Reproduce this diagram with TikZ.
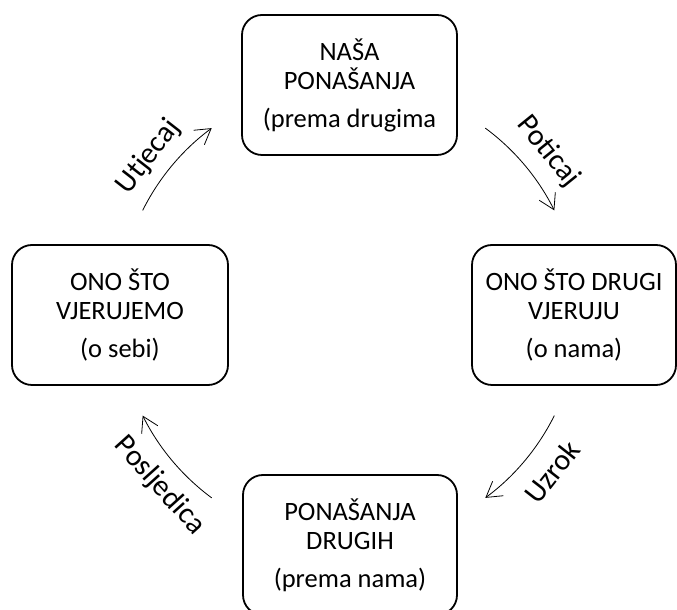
\documentclass[tikz,border=0pt]{standalone}
\usepackage{fontspec}
\setmainfont{Carlito}
\usetikzlibrary{arrows.meta}
\begin{document}
\begin{tikzpicture}[x=1pt,y=1pt,
  box/.style={draw, line width=1.8pt, rounded corners=20pt, minimum height=140pt, align=center, inner sep=0pt, font=\fontsize{26.5}{29}\selectfont},
  flow/.style={line width=0.8pt, -{Straight Barb[length=15pt,width=18pt,line width=0.8pt]}},
  lbl/.style={font=\fontsize{30}{34}\selectfont, inner sep=0pt}]
\useasboundingbox (0,0) rectangle (677,610);
\clip (0,0) rectangle (677,610);
\node[box, minimum width=215pt] (top) at (349.5,525) {NAŠA\\PONAŠANJA\\[9pt](prema drugima};
\node[box, minimum width=216pt] (left) at (120,295) {ONO ŠTO\\VJERUJEMO\\[9pt](o sebi)};
\node[box, minimum width=204pt] (right) at (574,295) {ONO ŠTO DRUGI\\VJERUJU\\[9pt](o nama)};
\node[box, minimum width=214pt] (bottom) at (350,65) {PONAŠANJA\\DRUGIH\\[9pt](prema nama)};
\coordinate (C) at (348.5,297);
\draw[flow] (C) ++(153.5:230pt) arc[start angle=153.5, end angle=126.5, radius=230pt];
\draw[flow] (C) ++(53.5:230pt) arc[start angle=53.5, end angle=26.5, radius=230pt];
\draw[flow] (C) ++(-26.5:230pt) arc[start angle=-26.5, end angle=-53.5, radius=230pt];
\draw[flow] (C) ++(-126.5:230pt) arc[start angle=-126.5, end angle=-153.5, radius=230pt];
\path (C) ++(142:254pt) node[lbl, rotate=52] (l1) {Utjecaj};
\path (C) ++(39:257pt) node[lbl, rotate=-51] (l2) {Poticaj};
\path (C) ++(-38:258pt) node[lbl, rotate=52] (l3) {Uzrok};
\path (C) ++(-137.6:256pt) node[lbl, rotate=-48] (l4) {Posljedica};
\end{tikzpicture}
\end{document}
